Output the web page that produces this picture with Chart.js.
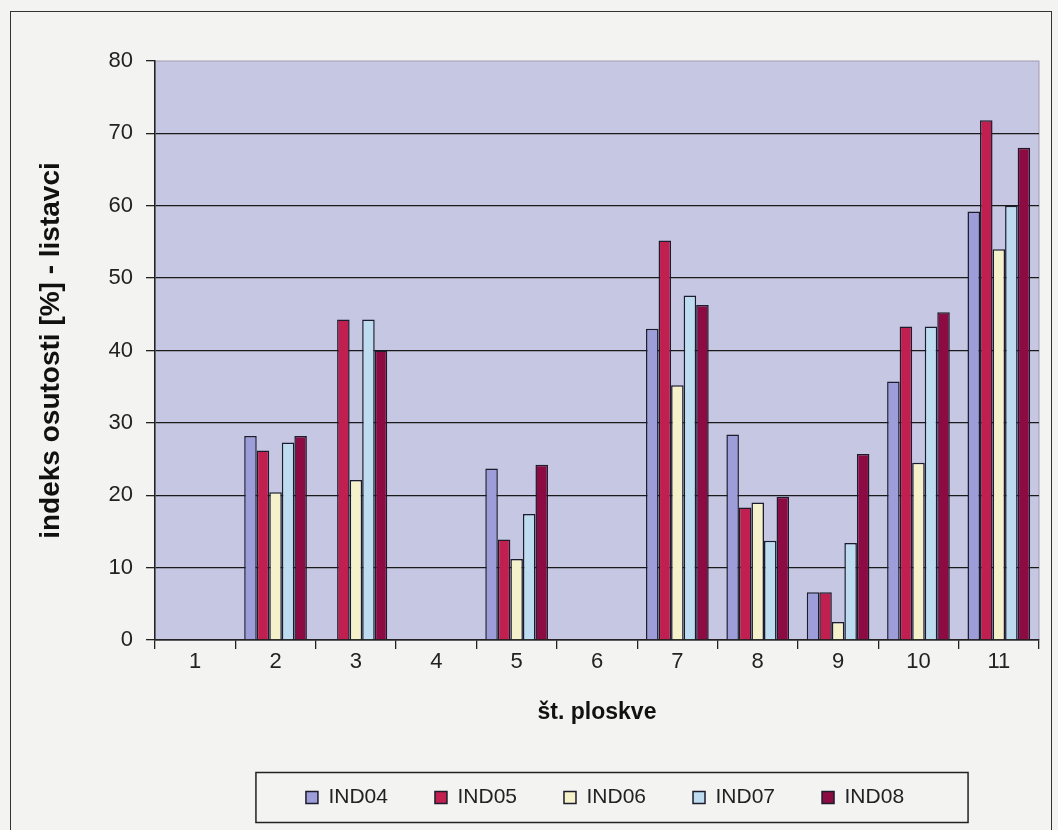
<!DOCTYPE html>
<html>
<head>
<meta charset="utf-8">
<script src="https://cdn.jsdelivr.net/npm/chart.js@4"></script>
<style>
  html, body { margin: 0; padding: 0; background: #f3f3f1; }
  #wrap { position: relative; width: 1058px; height: 830px; }
  #frame { position: absolute; left: 10px; top: 11px; width: 1040px; height: 840px; border: 1.5px solid #333; }
  #chartOsut { position: absolute; left: 0; top: 0; }
</style>
</head>
<body>
<div id="wrap">
  <div id="frame"></div>
  <canvas id="chartOsut" width="1058" height="830"></canvas>
</div>
<script>
const ploskve = ["1", "2", "3", "4", "5", "6", "7", "8", "9", "10", "11"];
const ind04 = [null, 28.2, null, null, 23.7, null, 43.0, 28.4, 6.6, 35.7, 59.2];
const ind05 = [null, 26.2, 44.3, null, 13.9, null, 55.2, 18.3, 6.6, 43.3, 71.8];
const ind06 = [null, 20.4, 22.1, null, 11.2, null, 35.2, 19.0, 2.5, 24.5, 54.0];
const ind07 = [null, 27.3, 44.3, null, 17.4, null, 47.6, 13.7, 13.4, 43.3, 60.0];
const ind08 = [null, 28.2, 40.0, null, 24.2, null, 46.3, 19.8, 25.7, 45.3, 68.0];
const yTicks = [0, 10, 20, 30, 40, 50, 60, 70, 80];

const FONT = "'Liberation Sans', Arial, sans-serif";

// plot area background, legend nudge + legend frame
const okvir = {
  id: "okvir",
  afterUpdate(chart) {
    const lg = chart.legend;
    if (!lg) return;
    lg.left += 8;
    lg.right += 8;
    lg.legendHitBoxes.forEach(h => { h.left += 8; });
  },
  beforeDraw(chart) {
    const { ctx, chartArea: a } = chart;
    ctx.save();
    ctx.fillStyle = "#c6c7e2";
    ctx.fillRect(a.left, a.top, a.right - a.left, a.bottom - a.top);
    ctx.strokeStyle = "#a29cb4";
    ctx.lineWidth = 1;
    ctx.strokeRect(a.left, a.top, a.right - a.left, a.bottom - a.top);
    ctx.restore();
  },
  afterDraw(chart) {
    const lg = chart.legend;
    if (!lg || !lg.legendHitBoxes.length) return;
    const hb = lg.legendHitBoxes;
    const last = hb[hb.length - 1];
    const x1 = hb[0].left - 50;
    const x2 = last.left + last.width + 64;
    const yc = hb[0].top + hb[0].height / 2;
    const ctx = chart.ctx;
    ctx.save();
    ctx.strokeStyle = "#222";
    ctx.lineWidth = 1.5;
    ctx.strokeRect(x1, yc - 25, x2 - x1, 50);
    ctx.restore();
  }
};

document.addEventListener("DOMContentLoaded", () => {
  new Chart(document.querySelector("#chartOsut"), {
    type: "bar",
    data: {
      labels: ploskve,
      datasets: [
        { label: "IND04", data: ind04, backgroundColor: "#9d9dd9" },
        { label: "IND05", data: ind05, backgroundColor: "#c01f4f" },
        { label: "IND06", data: ind06, backgroundColor: "#f5f1cb" },
        { label: "IND07", data: ind07, backgroundColor: "#bddcf0" },
        { label: "IND08", data: ind08, backgroundColor: "#8b0b42" },
      ].map(d => Object.assign(d, {
        borderColor: "#1c1c2c",
        borderWidth: 1.5,
        borderSkipped: "bottom",
        barPercentage: 1.0,
        categoryPercentage: 0.78,
      })),
    },
    options: {
      responsive: false,
      animation: false,
      devicePixelRatio: 1,
      layout: { padding: { left: 20, right: 19, top: 61, bottom: 12 } },
      plugins: {
        legend: {
          position: "bottom",
          fullSize: false,
          labels: {
            color: "#222",
            font: { family: FONT, size: 21 },
            boxWidth: 12,
            boxHeight: 12,
            padding: 47,
          },
        },
        tooltip: { enabled: false },
      },
      scales: {
        x: {
          afterFit: s => { s.height = 100; },
          grid: { offset: true, drawOnChartArea: false, drawTicks: true, tickLength: 9, color: "#222", lineWidth: 1.3 },
          border: { color: "#222", width: 1.5 },
          ticks: { color: "#222", font: { family: FONT, size: 22 }, padding: 0 },
          title: {
            display: true,
            text: "št. ploskve",
            color: "#111",
            font: { family: FONT, size: 23, weight: "bold" },
            padding: { top: 0, bottom: 14 },
          },
        },
        y: {
          min: 0,
          max: 80,
          afterFit: s => { s.width = 135; },
          afterBuildTicks: s => { s.ticks = yTicks.map(v => ({ value: v })); },
          grid: {
            color: c => (c.tick && c.tick.value === 80 ? "rgba(0,0,0,0)" : "#1a1a1a"),
            tickColor: "#222",
            lineWidth: 1.3,
            tickLength: 9,
          },
          border: { color: "#222", width: 1.5 },
          ticks: { color: "#222", font: { family: FONT, size: 22 }, padding: 13 },
          title: {
            display: true,
            text: "indeks osutosti [%] - listavci",
            color: "#111",
            font: { family: FONT, size: 28, weight: "bold" },
            padding: { top: 14, bottom: 0 },
          },
        },
      },
    },
    plugins: [okvir],
  });
});
</script>
</body>
</html>
